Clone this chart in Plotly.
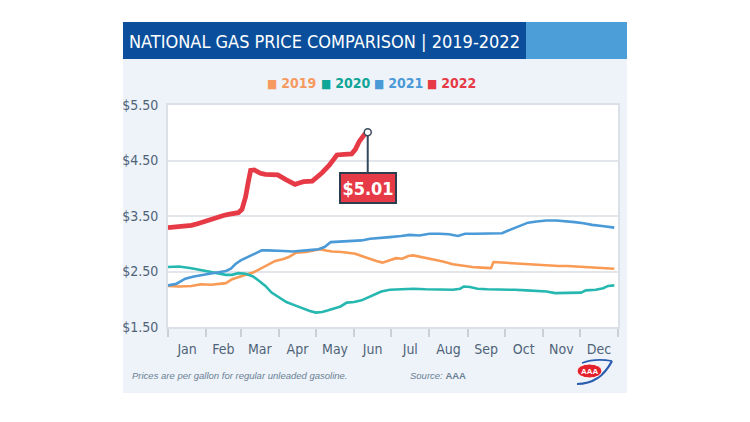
import pandas as pd
import plotly.graph_objects as go

# ---------------- data (day of year, average US price $/gal) ----------------
days_2019 = [1, 10, 20, 28, 36, 42, 48, 53, 58, 64, 70, 75, 82, 88, 94, 99, 105, 113, 119, 124,
             129, 134, 142, 153, 158, 164, 170, 175, 181, 186, 191, 196, 200, 207, 216, 224, 232,
             240, 248, 255, 263, 265, 272, 281, 288, 294, 301, 308, 318, 325, 332, 340, 348, 355, 363]
price_2019 = [2.24, 2.23, 2.24, 2.27, 2.26, 2.27, 2.29, 2.36, 2.40, 2.44, 2.48, 2.54, 2.62, 2.69,
              2.72, 2.76, 2.84, 2.85, 2.88, 2.90, 2.88, 2.86, 2.85, 2.82, 2.78, 2.73, 2.69, 2.66,
              2.70, 2.74, 2.73, 2.78, 2.79, 2.76, 2.72, 2.68, 2.63, 2.60, 2.58, 2.57, 2.56, 2.67,
              2.66, 2.66, 2.65, 2.64, 2.63, 2.61, 2.60, 2.60, 2.59, 2.58, 2.57, 2.55, 2.55]

days_2020 = [1, 10, 20, 27, 35, 43, 48, 53, 58, 64, 70, 75, 80, 85, 91, 97, 104, 111, 116, 121,
             126, 131, 136, 141, 146, 152, 158, 163, 168, 174, 181, 190, 200, 210, 220, 232, 238,
             241, 246, 252, 260, 270, 282, 292, 300, 308, 315, 322, 330, 336, 340, 348, 354, 358, 363]
price_2020 = [2.58, 2.59, 2.56, 2.53, 2.49, 2.45, 2.44, 2.44, 2.47, 2.46, 2.41, 2.33, 2.24, 2.12,
              2.03, 1.95, 1.89, 1.83, 1.79, 1.76, 1.77, 1.80, 1.84, 1.87, 1.94, 1.95, 1.98, 2.03,
              2.09, 2.14, 2.17, 2.18, 2.19, 2.18, 2.18, 2.17, 2.19, 2.23, 2.22, 2.19, 2.18, 2.18,
              2.17, 2.16, 2.15, 2.14, 2.11, 2.11, 2.11, 2.12, 2.16, 2.17, 2.20, 2.24, 2.25]

days_2021 = [1, 8, 15, 22, 30, 36, 43, 48, 52, 56, 60, 66, 72, 77, 82, 88, 95, 102, 110, 118,
             123, 128, 133, 140, 150, 158, 165, 172, 181, 190, 197, 205, 213, 221, 229, 236, 242,
             250, 262, 272, 276, 282, 288, 293, 300, 308, 316, 324, 331, 338, 345, 353, 363]
price_2021 = [2.25, 2.28, 2.37, 2.41, 2.44, 2.46, 2.48, 2.51, 2.55, 2.64, 2.70, 2.76, 2.82, 2.88,
              2.88, 2.87, 2.87, 2.86, 2.87, 2.89, 2.90, 2.94, 3.03, 3.04, 3.05, 3.06, 3.09, 3.10,
              3.12, 3.14, 3.16, 3.15, 3.18, 3.18, 3.17, 3.14, 3.18, 3.18, 3.18, 3.19, 3.23, 3.28,
              3.33, 3.38, 3.40, 3.42, 3.42, 3.41, 3.39, 3.37, 3.34, 3.32, 3.29]

days_2022 = [1, 8, 14, 20, 25, 30, 35, 41, 46, 50, 55, 58, 61, 64, 66, 68, 71, 76, 80, 84, 90,
             97, 104, 108, 111, 118, 122, 126, 132, 136, 138, 144, 150, 153, 156, 160, 163]
price_2022 = [3.29, 3.30, 3.31, 3.33, 3.36, 3.40, 3.44, 3.48, 3.51, 3.53, 3.54, 3.56, 3.62, 3.85,
              4.10, 4.32, 4.33, 4.27, 4.25, 4.24, 4.24, 4.15, 4.07, 4.10, 4.12, 4.13, 4.20, 4.28,
              4.42, 4.53, 4.60, 4.61, 4.62, 4.70, 4.84, 4.96, 5.01]

years = ["2019", "2020", "2021", "2022"]
y_ticks = [1.5, 2.5, 3.5, 4.5, 5.5]
y_tick_text = ["$1.50", "$2.50", "$3.50", "$4.50", "$5.50"]

colors = {"2019": "#f99a55", "2020": "#26b8b0", "2021": "#4a9ad8", "2022": "#e63a46"}
legend_colors = {"2019": "#f79a5f", "2020": "#0fa597", "2021": "#4a9ad8", "2022": "#e63a46"}

series = {"2019": (days_2019, price_2019), "2020": (days_2020, price_2020),
          "2021": (days_2021, price_2021), "2022": (days_2022, price_2022)}

base = pd.Timestamp("2022-01-01")
def to_dates(days):
    return [base + pd.Timedelta(days=d - 1) for d in days]

COND = "DejaVu Sans Condensed, Liberation Sans Narrow, Roboto, sans-serif"
SLATE = "#4e6378"

# page body has an 8px margin: plot box in figure pixels
OFF = 8
L, R, T, B = 168 - OFF, 618 - OFF, 105 - OFF, 327 - OFF
# reference-pixel -> paper helpers
def px(xp): return (xp - OFF - L) / (R - L)
def py(yp): return (B - (yp - OFF)) / (B - T)

fig = go.Figure()
for yr in years:
    d, p = series[yr]
    fig.add_trace(go.Scatter(
        x=to_dates(d), y=p, mode="lines", showlegend=False,
        line=dict(color=colors[yr], width=4.8 if yr == "2022" else 2.6),
    ))
# end marker for 2022
fig.add_trace(go.Scatter(
    x=to_dates(days_2022[-1:]), y=price_2022[-1:], mode="markers", showlegend=False,
    marker=dict(size=7, color="white", line=dict(color="#3b4a5a", width=1.5)),
))
# legend entries (coloured square glyph + year), one small legend per year
legend_ids = ["legend", "legend2", "legend3", "legend4"]
legend_x = [227, 281, 334, 387]
for yr, lid in zip(years, legend_ids):
    fig.add_trace(go.Scatter(
        x=[None], y=[None], mode="markers", legend=lid,
        name=(f"<span style='color:{legend_colors[yr]}'><span style='font-size:12px'>■</span>"
              f" <b>{yr}</b></span>"),
        marker=dict(symbol="square", size=0, opacity=0, color="rgba(0,0,0,0)",
                    line=dict(width=0)),
    ))

shapes = [
    dict(type="rect", xref="paper", yref="paper", x0=px(123), x1=px(627), y0=py(393), y1=py(22),
         fillcolor="#eef3f9", line=dict(width=0), layer="below"),
    dict(type="rect", xref="paper", yref="paper", x0=0, x1=1, y0=0, y1=1,
         fillcolor="white", line=dict(width=0), layer="below"),
    dict(type="rect", xref="paper", yref="paper", x0=px(123), x1=px(526), y0=py(59), y1=py(22),
         fillcolor="#0b4f9c", line=dict(width=0), layer="below"),
    dict(type="rect", xref="paper", yref="paper", x0=px(526), x1=px(627), y0=py(59), y1=py(22),
         fillcolor="#4c9ed9", line=dict(width=0), layer="below"),
    # AAA logo approximation
    dict(type="path", xref="paper", yref="paper",
         path=f"M {px(577)},{py(384)} Q {px(600)},{py(384)} {px(612)},{py(361)}",
         line=dict(color="#2a5db0", width=2.2), layer="above"),
    dict(type="path", xref="paper", yref="paper",
         path=f"M {px(582)},{py(363)} Q {px(595)},{py(358)} {px(612)},{py(361)}",
         line=dict(color="#2a5db0", width=1.5), layer="above"),
    dict(type="circle", xref="paper", yref="paper", x0=px(577), x1=px(602), y0=py(378), y1=py(364),
         fillcolor="#e4222e", line=dict(color="white", width=1), layer="above"),
]

annotations = [
    dict(xref="paper", yref="paper", x=px(127), y=py(41), xanchor="left", yanchor="middle",
         text="NATIONAL GAS PRICE COMPARISON | 2019-2022", showarrow=False,
         font=dict(family=COND, size=18, color="white")),
    dict(xref="paper", yref="paper", x=px(130), y=py(375), xanchor="left", yanchor="middle",
         text="<i>Prices are per gallon for regular unleaded gasoline.</i>", showarrow=False,
         font=dict(family="Liberation Sans, Arial, sans-serif", size=9.5, color="#6b7f94")),
    dict(xref="paper", yref="paper", x=px(408), y=py(375), xanchor="left", yanchor="middle",
         text="<i>Source:</i> <b>AAA</b>", showarrow=False,
         font=dict(family="Liberation Sans, Arial, sans-serif", size=9.5, color="#6b7f94")),
    dict(xref="paper", yref="paper", x=px(589.5), y=py(371), xanchor="center", yanchor="middle",
         text="<b>AAA</b>", showarrow=False,
         font=dict(family="Liberation Sans, Arial, sans-serif", size=8, color="white")),
    dict(x=to_dates(days_2022[-1:])[0], y=price_2022[-1], xref="x", yref="y",
         text=f"<b>${price_2022[-1]:.2f}</b>", showarrow=True, arrowhead=0, arrowwidth=2,
         arrowcolor="#34495e", ax=0, ay=56, standoff=3,
         width=52, height=26, align="center", valign="middle",
         bgcolor="#e63a46", bordercolor="#2f3e4e", borderwidth=2, borderpad=1,
         font=dict(family=COND, size=18, color="white")),
]

legend_common = dict(orientation="h", y=py(83), yanchor="middle", xanchor="left",
                     bgcolor="rgba(0,0,0,0)", font=dict(family=COND, size=14), itemwidth=30)

fig.update_layout(
    width=750, height=422,
    margin=dict(l=L, r=750 - R, t=T, b=422 - B),
    paper_bgcolor="white", plot_bgcolor="white",
    shapes=shapes, annotations=annotations,
    legend=dict(x=px(legend_x[0]), **legend_common),
    legend2=dict(x=px(legend_x[1]), **legend_common),
    legend3=dict(x=px(legend_x[2]), **legend_common),
    legend4=dict(x=px(legend_x[3]), **legend_common),
    xaxis=dict(type="date", range=[base, base + pd.Timedelta(days=365)],
               tick0=base, dtick="M1", tickformat="%b", ticklabelmode="period",
               ticks="outside", ticklen=8, tickcolor="#c9d0d8", tickwidth=1.5,
               showgrid=False, zeroline=False,
               showline=True, mirror=True, linecolor="#dce1e7", linewidth=2,
               tickfont=dict(family=COND, size=14, color=SLATE)),
    yaxis=dict(range=[1.5, 5.5], tickvals=y_ticks, ticktext=y_tick_text,
               showgrid=True, gridcolor="#e2e5ea", gridwidth=1.5, zeroline=False,
               showline=True, mirror=True, linecolor="#dce1e7", linewidth=2,
               ticks="", ticklabelstandoff=5,
               tickfont=dict(family=COND, size=14, color=SLATE)),
    showlegend=True,
)

fig.write_html("out.html")
